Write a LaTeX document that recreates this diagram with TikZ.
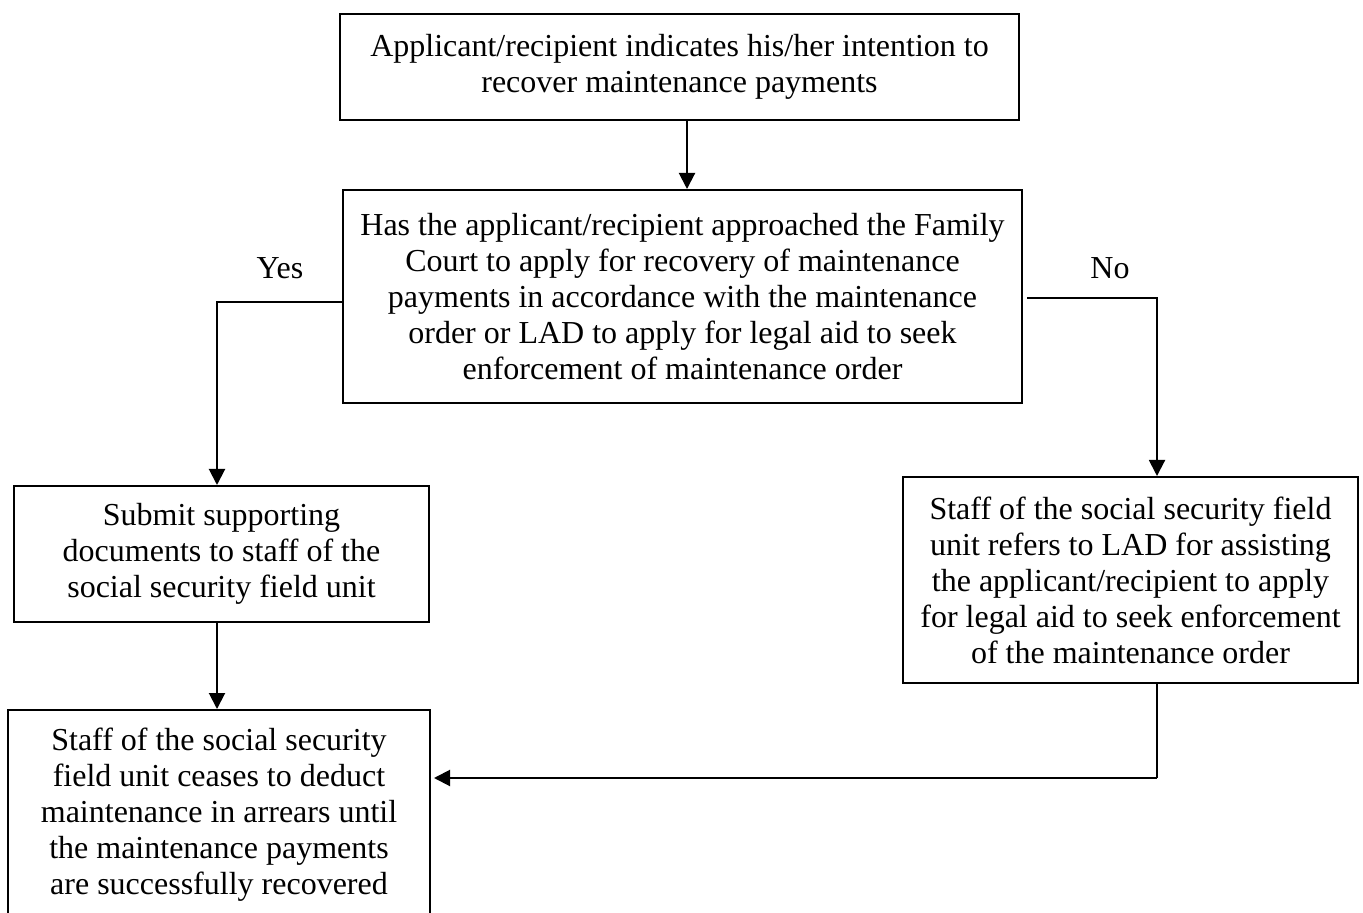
\documentclass[tikz,border=0pt]{standalone}
\usepackage{fontspec}
\setmainfont{Liberation Serif}
\usetikzlibrary{arrows.meta,calc}
\begin{document}
\begin{tikzpicture}[x=0.5pt,y=-0.5pt,
  box/.style={draw, line width=1pt, align=center, inner sep=0pt,
    font=\fontsize{16pt}{18pt}\selectfont},
  lbl/.style={font=\fontsize{16pt}{18pt}\selectfont},
  arr/.style={line width=1pt, -{Triangle[width=8pt,length=8pt]}},
  ln/.style={line width=1pt}]
\clip (0,0) rectangle (1363,913);
\node[box, minimum width=679*0.5pt, minimum height=106*0.5pt] (n1) at (679.5,67)
  {Applicant/recipient indicates his/her intention to\\recover maintenance payments};
\node[box, minimum width=679*0.5pt, minimum height=213*0.5pt] (n2) at (682.5,296.5)
  {Has the applicant/recipient approached the Family\\Court to apply for recovery of maintenance\\payments in accordance with the maintenance\\order or LAD to apply for legal aid to seek\\enforcement of maintenance order};
\node[box, minimum width=415*0.5pt, minimum height=136*0.5pt] (n3) at (221.5,554)
  {Submit supporting\\documents to staff of the\\social security field unit};
\node[box, minimum width=455*0.5pt, minimum height=206*0.5pt] (n4) at (1130.5,580)
  {Staff of the social security field\\unit refers to LAD for assisting\\the applicant/recipient to apply\\for legal aid to seek enforcement\\of the maintenance order};
\node[box, minimum width=422*0.5pt, minimum height=210*0.5pt] (n5) at (219,815)
  {Staff of the social security\\field unit ceases to deduct\\maintenance in arrears until\\the maintenance payments\\are successfully recovered};
\node[lbl] (yes) at (280,268) {Yes};
\node[lbl] (no) at (1110,268) {No};
\coordinate (top) at (687,0);
\coordinate (mid) at (217,0);
\coordinate (ya) at (217,302);
\coordinate (na) at (1157,298);
\coordinate (nb) at (1157,778);
\draw[arr] (top |- n1.south) -- (top |- n2.north);
\draw[arr] (n2.west |- ya) -- (ya) -- (ya |- n3.north);
\draw[arr] ([xshift=2pt]n2.east |- na) -- (na) -- (na |- n4.north);
\draw[ln] (nb |- n4.south) -- (nb);
\draw[arr] (nb) -- ([xshift=1.5pt]n5.east |- nb);
\draw[arr] (mid |- n3.south) -- (mid |- n5.north);
\end{tikzpicture}
\end{document}
